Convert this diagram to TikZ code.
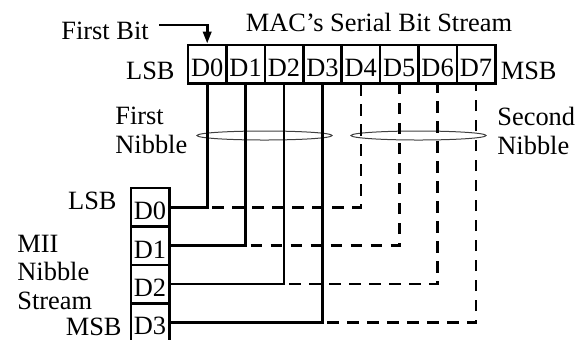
\documentclass[tikz,border=0pt]{standalone}
\usepackage{fontspec}
\setmainfont{Liberation Serif}
\usetikzlibrary{arrows.meta,shapes.geometric}

\tikzset{
  cell/.style={draw, line width=1.3pt, minimum width=19.2pt, minimum height=19.2pt, inner sep=0pt, text height=12.5pt, text depth=0pt},
  lbl/.style={inner sep=0pt},
  wire/.style={line width=1.3pt},
  dwire/.style={line width=1.3pt, dash pattern=on 5.75pt off 4.25pt, dash phase=7.5pt},
  nib/.style={ellipse, draw=black!75, line width=0.5pt, minimum width=67.5pt, minimum height=4.5pt, inner sep=0pt}
}

\begin{document}
\begin{tikzpicture}[x=0.5pt, y=-0.5pt, font=\fontsize{13.2}{14.25}\selectfont]
  \useasboundingbox (0,0) rectangle (581,339);

  % serial bit stream
  \node[cell] (t0) at (207.2,64) {D0};
  \node[cell] (t1) at (245.6,64) {D1};
  \node[cell] (t2) at (284,64) {D2};
  \node[cell] (t3) at (322.4,64) {D3};
  \node[cell] (t4) at (360.8,64) {D4};
  \node[cell] (t5) at (399.2,64) {D5};
  \node[cell] (t6) at (437.6,64) {D6};
  \node[cell] (t7) at (476,64) {D7};

  % nibble stream
  \node[cell] (l0) at (150,207.2) {D0};
  \node[cell] (l1) at (150,245.6) {D1};
  \node[cell] (l2) at (150,284) {D2};
  \node[cell] (l3) at (150,322.4) {D3};

  % labels
  \node[lbl] (title) at (379,22.5) {MAC's Serial Bit Stream};
  \node[lbl, anchor=west] (fbit) at (61,31) {First Bit};
  \node[lbl, anchor=east] (tlsb) at (175,70.5) {LSB};
  \node[lbl, anchor=east] (tmsb) at (557,70.5) {MSB};
  \node[lbl, anchor=north west, align=left] (nib1) at (115,107) {First\\Nibble};
  \node[lbl, anchor=north west, align=left] (nib2) at (497,107) {Second\\Nibble};
  \node[lbl, anchor=east] (llsb) at (117,201) {LSB};
  \node[lbl, anchor=east] (lmsb) at (122,327) {MSB};
  \node[lbl, anchor=north west, align=left] (mii) at (17,234.5) {MII\\Nibble\\Stream};

  \node[nib] (e1) at (264.5,135.5) {};
  \node[nib] (e2) at (418.5,135.5) {};

  \draw[wire, -{Triangle[length=6pt,width=4.2pt]}] ([xshift=5pt,yshift=3pt]fbit.east) -| (t0.north);

  % first nibble
  \draw[wire] (t0.south) |- (l0.east);
  \draw[wire] (t1.south) |- (l1.east);
  \draw[wire] (t2.south) |- (l2.east);
  \draw[wire] (t3.south) |- (l3.east);

  % second nibble
  \draw[dwire] (t0 |- l0) -| (t4.south);
  \draw[dwire] (t1 |- l1) -| (t5.south);
  \draw[dwire] (t2 |- l2) -| (t6.south);
  \draw[dwire] (t3 |- l3) -| (t7.south);
\end{tikzpicture}
\end{document}
